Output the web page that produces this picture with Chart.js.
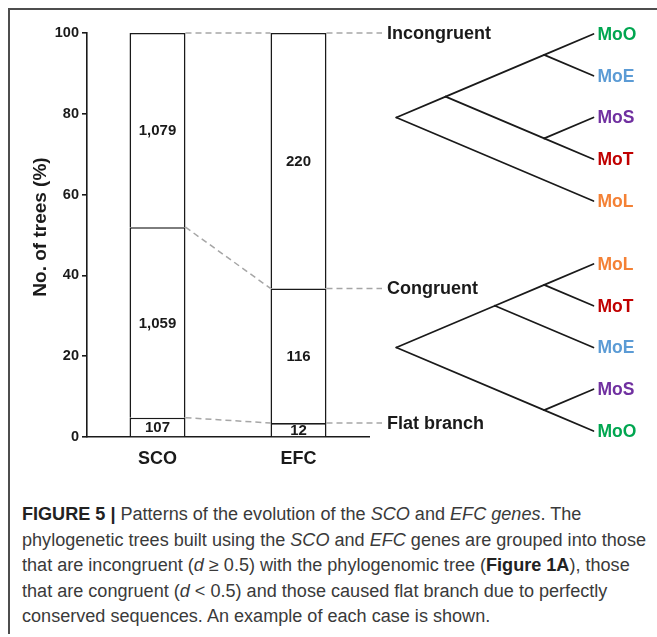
<!DOCTYPE html>
<html>
<head>
<meta charset="utf-8">
<script src="https://cdn.jsdelivr.net/npm/chart.js@4.4.1/dist/chart.umd.min.js"></script>
<style>
  html, body { margin: 0; padding: 0; background: #fff; }
  #wrap { position: relative; width: 657px; height: 637px; overflow: hidden; }
  #frame { position: absolute; left: 8px; top: 8px; width: 700px; height: 624px;
           border-top: 2px solid #4d4d4d; border-left: 2px solid #4d4d4d; }
  #chart { position: absolute; left: 0; top: 0; }
  #caption { position: absolute; left: 22px; top: 502px; white-space: nowrap;
             font-family: "Liberation Sans", Arial, sans-serif; font-size: 18px;
             line-height: 25.5px; color: #3a3a3a; transform-origin: 0 0; }
  #caption b { color: #222; }
</style>
</head>
<body>
<div id="wrap">
  <div id="frame"></div>
  <canvas id="chart" width="657" height="480"></canvas>
  <div id="caption">
    <span><b>FIGURE 5 |</b> Patterns of the evolution of the <i>SCO</i> and <i>EFC genes</i>. The</span><br>
    <span id="capWide">phylogenetic trees built using the <i>SCO</i> and <i>EFC</i> genes are grouped into those</span><br>
    <span>that are incongruent (<i>d</i> &ge; 0.5) with the phylogenomic tree (<b>Figure 1A</b>), those</span><br>
    <span>that are congruent (<i>d</i> &lt; 0.5) and those caused flat branch due to perfectly</span><br>
    <span>conserved sequences. An example of each case is shown.</span>
  </div>
</div>
<script>
// Gene sets and tree counts per class
const categories = ['SCO', 'EFC'];
const groupNames = ['Flat branch', 'Congruent', 'Incongruent'];
const flatCounts = [107, 12];
const congruentCounts = [1059, 116];
const incongruentCounts = [1079, 220];
const yTicks = [0, 20, 40, 60, 80, 100];
const yTitle = 'No. of trees (%)';

// Example topologies (leaf order top to bottom)
const incongruentTree = [[['MoO', 'MoE'], ['MoS', 'MoT']], 'MoL'];
const congruentTree = [[['MoL', 'MoT'], 'MoE'], ['MoS', 'MoO']];
const leafColors = { MoO: '#00a650', MoE: '#5b9bd5', MoS: '#7030a0', MoT: '#c00000', MoL: '#f48135' };

const countSets = [flatCounts, congruentCounts, incongruentCounts];
const totals = categories.map((_, i) => countSets.reduce((s, c) => s + c[i], 0));
const percentSets = countSets.map(c => c.map((v, i) => v / totals[i] * 100));

const FONT = '"Liberation Sans", Arial, sans-serif';
const INK = '#1a1a1a';

// Segment counts written in the middle of each stacked segment
const barLabels = {
  id: 'barLabels',
  afterDatasetsDraw(chart) {
    const ctx = chart.ctx;
    ctx.save();
    ctx.font = 'bold 15px ' + FONT;
    ctx.fillStyle = INK;
    ctx.textAlign = 'center';
    ctx.textBaseline = 'middle';
    chart.data.datasets.forEach((ds, di) => {
      chart.getDatasetMeta(di).data.forEach((el, i) => {
        ctx.fillText(countSets[di][i].toLocaleString('en-US'), el.x, (el.y + el.base) / 2 + 1);
      });
    });
    ctx.restore();
  }
};

// Dashed links between the segment tops and the class names
const connectors = {
  id: 'connectors',
  beforeDatasetsDraw(chart) {
    const ctx = chart.ctx;
    const area = chart.chartArea;
    ctx.save();
    ctx.strokeStyle = '#a6a6a6';
    ctx.lineWidth = 1.5;
    ctx.setLineDash([6, 4]);
    chart.data.datasets.forEach((ds, di) => {
      const [a, b] = chart.getDatasetMeta(di).data;
      ctx.beginPath();
      ctx.moveTo(a.x + a.width / 2, a.y);
      ctx.lineTo(b.x - b.width / 2, b.y);
      ctx.stroke();
      ctx.beginPath();
      ctx.moveTo(b.x + b.width / 2, b.y);
      ctx.lineTo(area.right + 13, b.y);
      ctx.stroke();
    });
    ctx.restore();
  },
  afterDatasetsDraw(chart) {
    const ctx = chart.ctx;
    const area = chart.chartArea;
    ctx.save();
    ctx.font = 'bold 18px ' + FONT;
    ctx.fillStyle = INK;
    ctx.textAlign = 'left';
    ctx.textBaseline = 'middle';
    chart.data.datasets.forEach((ds, di) => {
      const b = chart.getDatasetMeta(di).data[1];
      ctx.fillText(ds.label, area.right + 18, b.y + 1);
    });
    ctx.restore();
  }
};

// Rotated y-axis caption, set slightly above the axis middle
const axisTitle = {
  id: 'axisTitle',
  afterDraw(chart) {
    const ctx = chart.ctx;
    const area = chart.chartArea;
    ctx.save();
    ctx.translate(41, (area.top + area.bottom) / 2 - 8);
    ctx.rotate(-Math.PI / 2);
    ctx.font = 'bold 19px ' + FONT;
    ctx.fillStyle = INK;
    ctx.textAlign = 'center';
    ctx.textBaseline = 'middle';
    ctx.fillText(yTitle, 0, 0);
    ctx.restore();
  }
};

// Slanted cladograms laid out from their topology
function layoutTree(node, st) {
  if (typeof node === 'string') {
    const y = st.top + st.i * st.dy;
    st.i++;
    st.leaves.push({ name: node, x: st.leafX, y });
    return { x: st.leafX, y, n: 1, ymin: y, ymax: y };
  }
  const kids = node.map(k => layoutTree(k, st));
  const n = kids.reduce((s, k) => s + k.n, 0);
  const ymin = Math.min(...kids.map(k => k.ymin));
  const ymax = Math.max(...kids.map(k => k.ymax));
  const p = { x: st.leafX - (n - 1) * st.dx, y: (ymin + ymax) / 2, n, ymin, ymax };
  kids.forEach(k => st.edges.push([p.x, p.y, k.x, k.y]));
  return p;
}

const trees = {
  id: 'trees',
  afterDraw(chart) {
    const ctx = chart.ctx;
    [[incongruentTree, 34], [congruentTree, 264]].forEach(([tree, top]) => {
      const st = { top, dy: 41.75, dx: 49.3, leafX: 593.5, i: 0, leaves: [], edges: [] };
      layoutTree(tree, st);
      ctx.save();
      ctx.strokeStyle = INK;
      ctx.lineWidth = 1.7;
      ctx.lineCap = 'round';
      st.edges.forEach(([x1, y1, x2, y2]) => {
        ctx.beginPath();
        ctx.moveTo(x1, y1);
        ctx.lineTo(x2, y2);
        ctx.stroke();
      });
      ctx.font = 'bold 17.5px ' + FONT;
      ctx.textAlign = 'left';
      ctx.textBaseline = 'middle';
      st.leaves.forEach(l => {
        ctx.fillStyle = leafColors[l.name];
        ctx.fillText(l.name, l.x + 4, l.y + 1);
      });
      ctx.restore();
    });
  }
};

// Each segment draws its top and sides; the x axis closes the bottom
const barStyle = {
  backgroundColor: '#ffffff',
  borderColor: INK,
  borderWidth: { top: 1.6, left: 1.6, right: 1.6, bottom: 0 },
  borderSkipped: false,
  categoryPercentage: 1,
  barPercentage: 0.397
};

new Chart(document.getElementById('chart'), {
  type: 'bar',
  data: {
    labels: categories,
    datasets: percentSets.map((p, i) => Object.assign({ label: groupNames[i], data: p }, barStyle))
  },
  options: {
    responsive: false,
    animation: false,
    devicePixelRatio: 1,
    layout: { padding: { left: 26, right: 288, top: 33, bottom: 0 } },
    plugins: { legend: { display: false }, tooltip: { enabled: false } },
    scales: {
      x: {
        stacked: true,
        grid: { display: false, drawTicks: false },
        border: { display: true, color: INK, width: 1.6 },
        ticks: { color: INK, font: { family: FONT, size: 18, weight: 'bold' }, padding: 11 },
        afterFit(scale) { scale.height = 43; }
      },
      y: {
        stacked: true,
        min: 0,
        max: 100,
        afterBuildTicks(scale) { scale.ticks = yTicks.map(v => ({ value: v })); },
        grid: { display: true, drawOnChartArea: false, drawTicks: true, tickLength: 5, color: INK, lineWidth: 1.6 },
        border: { display: true, color: INK, width: 1.6 },
        ticks: { color: INK, font: { family: FONT, size: 14.5, weight: 'bold' }, padding: 3 },
        title: { display: false },
        afterFit(scale) { scale.width = 61; }
      }
    }
  },
  plugins: [connectors, barLabels, axisTitle, trees]
});

// Fit the caption lines to the text column width
(function fitCaption() {
  const cap = document.getElementById('caption');
  const w = document.getElementById('capWide').getBoundingClientRect().width;
  cap.style.transform = 'scaleX(' + (624 / w) + ')';
})();
</script>
</body>
</html>
